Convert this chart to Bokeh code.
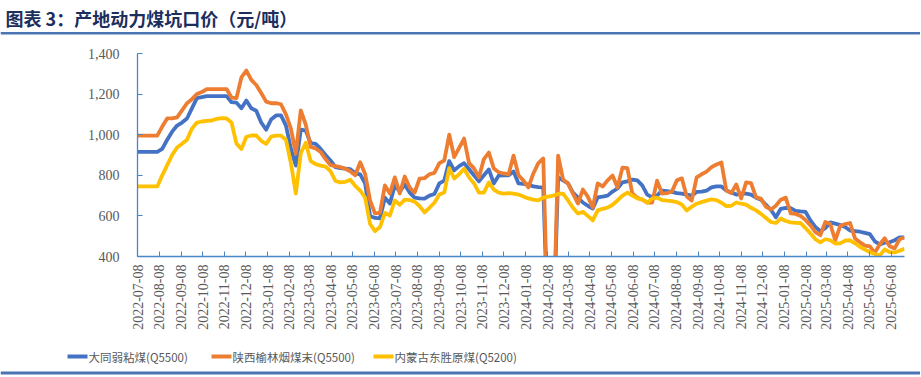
import pandas as pd
from bokeh.plotting import figure
from bokeh.layouts import column
from bokeh.core.properties import value
from bokeh.models import (FixedTicker, DatetimeTickFormatter, NumeralTickFormatter, Range1d)
from bokeh.embed import file_html
from bokeh.resources import INLINE

title_text = "图表 3：产地动力煤坑口价（元/吨）"
series_names = ["大同弱粘煤(Q5500)", "陕西榆林烟煤末(Q5500)", "内蒙古东胜原煤(Q5200)"]
start_date = "2022-07-08"
n_weeks = 156
tick_start = "2022-07-08"
tick_end = "2025-06-08"
y_ticks = [400, 600, 800, 1000, 1200, 1400]

datong = [
    915, 915, 915, 915, 915,
    930, 975, 1015, 1045, 1060,
    1080, 1130, 1180, 1185, 1190,
    1190, 1190, 1190, 1190, 1160,
    1158, 1130, 1168, 1130, 1118,
    1060, 1025, 1075, 1095, 1095,
    1045, 930, 848, 1025, 1020,
    958, 955, 930, 900, 873,
    840, 835, 833, 830, 810,
    805, 760, 600, 590, 588,
    690, 661, 750, 720, 755,
    715, 690, 686, 685, 700,
    708, 760, 774, 870, 824,
    845, 860, 830, 800, 770,
    800, 829, 760, 799, 800,
    800, 819, 760, 758, 755,
    745, 742, 740, 0, 0,
    790, 775, 760, 715, 690,
    666, 650, 636, 691, 695,
    700, 720, 735, 765, 770,
    779, 775, 750, 705, 692,
    700, 725, 722, 718, 712,
    710, 705, 700, 718, 720,
    725, 740, 745, 745, 725,
    715, 705, 710, 710, 705,
    690, 680, 655, 630, 593,
    635, 640, 638, 625, 622,
    620, 578, 545, 525, 540,
    568, 562, 555, 545, 528,
    525, 522, 516, 510, 475,
    460, 468, 470, 480, 494,
    494]

yulin = [
    995, 995, 995, 995, 995,
    1040, 1080, 1080, 1085, 1120,
    1155, 1175, 1200, 1210, 1225,
    1225, 1225, 1225, 1225, 1183,
    1180, 1282, 1316, 1270, 1245,
    1205, 1163, 1155, 1155, 1150,
    1100, 1030, 907, 1120, 1050,
    940, 932, 915, 880, 850,
    845, 840, 832, 820, 800,
    864, 807, 676, 612, 615,
    750, 710, 790, 710, 794,
    740, 715, 784, 786, 805,
    812, 860, 873, 1000, 890,
    935, 981, 860, 834, 790,
    880, 912, 834, 815, 809,
    805, 897, 800, 774, 740,
    809, 860, 883, 0, 0,
    897, 780, 760, 710, 661,
    730, 695, 641, 760, 745,
    775, 799, 740, 838, 835,
    710, 690, 680, 666, 665,
    774, 710, 712, 720, 775,
    785, 695, 676, 790, 805,
    818, 840, 853, 863, 725,
    712, 755, 686, 765, 762,
    691, 685, 645, 632, 650,
    680, 690, 612, 610, 600,
    580, 553, 520, 505, 570,
    560, 480, 550, 560, 565,
    489, 470, 454, 450, 418,
    460, 490, 450, 440, 485,
    494]

dongsheng = [
    745, 745, 745, 745, 745,
    800, 850, 900, 937, 955,
    975, 1030, 1060, 1065, 1068,
    1070, 1078, 1082, 1080, 1060,
    956, 930, 990, 996, 996,
    970, 955, 990, 995, 995,
    975, 860, 710, 910, 960,
    870, 855, 848, 843, 820,
    772, 765, 768, 778, 748,
    725, 690, 560, 525, 545,
    615, 602, 676, 655, 680,
    678, 670, 648, 617, 640,
    665, 705, 715, 835, 784,
    805, 832, 790, 760, 715,
    715, 765, 730, 715, 710,
    712, 710, 705, 695, 686,
    680, 676, 690, 695, 700,
    708, 710, 676, 640, 612,
    620, 600, 578, 627, 635,
    641, 655, 676, 700, 715,
    700, 686, 681, 665, 685,
    690, 678, 675, 673, 668,
    656, 627, 645, 660, 668,
    675, 681, 678, 665, 648,
    650, 666, 660, 655, 640,
    627, 610, 590, 570, 565,
    587, 575, 568, 566, 565,
    540, 513, 485, 470, 485,
    480, 464, 465, 478, 480,
    465, 448, 434, 422, 412,
    405, 435, 422, 420, 428,
    438]

dates = pd.date_range(start_date, periods=n_weeks, freq="7D")
ticks = pd.date_range(tick_start, tick_end, freq=pd.DateOffset(months=1))
tick_ms = [int(t.value // 10**6) for t in ticks]
x_start = int(dates[0].value // 10**6)
x_end = int(dates[-1].value // 10**6)

W = 920
HEAD_H, MAIN_H, FOOT_H = 36, 309, 31
colors = ["#4472C4", "#ED7D31", "#FFC000"]
rule_color = "#4A74B3"
label_color = "#595959"
cjk = "Noto Sans CJK SC"


def blank_fig(h):
    f = figure(width=W, height=h, output_backend="svg", toolbar_location=None,
               x_range=Range1d(0, W), y_range=Range1d(h, 0),
               x_axis_location=None, y_axis_location=None,
               min_border=0, min_border_left=0, min_border_right=0,
               min_border_top=0, min_border_bottom=0, frame_align=False)
    f.outline_line_color = None
    f.xgrid.visible = False
    f.ygrid.visible = False
    return f


# header: title and rule
head = blank_fig(HEAD_H)
head.text(x=[5], y=[17], text=[title_text], text_font=value(cjk), text_font_style="bold",
          text_font_size="18px", text_color="#1C2E5C", text_baseline="middle", text_align="left")
head.quad(left=[0], right=[W], top=[31.5], bottom=[34], fill_color=rule_color, line_color=None)

# main chart
p = figure(width=W, height=MAIN_H, x_axis_type="datetime", output_backend="svg",
           toolbar_location=None, title=None, frame_align=False,
           x_range=Range1d(x_start, x_end), y_range=Range1d(400, 1400),
           min_border_left=137, min_border_right=16, min_border_top=17, min_border_bottom=89)
p.outline_line_color = None
p.xgrid.visible = False
p.ygrid.visible = False

for vals, c in zip([datong, yulin, dongsheng], colors):
    p.line(dates, vals, line_color=c, line_width=3.8, line_join="round")

axis_color = "#4A86C5"
for ax in (p.xaxis[0], p.yaxis[0]):
    ax.axis_line_color = axis_color
    ax.axis_line_width = 1.3
    ax.major_tick_line_color = axis_color
    ax.major_tick_in = 5
    ax.major_tick_out = 0
    ax.minor_tick_line_color = None
    ax.major_label_text_color = label_color
    ax.major_label_text_font = "Liberation Serif"
    ax.major_label_text_font_size = "14px"

p.yaxis[0].ticker = FixedTicker(ticks=y_ticks)
p.yaxis[0].formatter = NumeralTickFormatter(format="0,0")
p.yaxis[0].major_label_standoff = 18

p.xaxis[0].ticker = FixedTicker(ticks=tick_ms)
fmt = "%Y-%m-%d"
p.xaxis[0].formatter = DatetimeTickFormatter(
    microseconds=fmt, milliseconds=fmt, seconds=fmt, minsec=fmt, minutes=fmt,
    hourmin=fmt, hours=fmt, days=fmt, months=fmt, years=fmt)
p.xaxis[0].major_label_orientation = 3.14159265 / 2
p.xaxis[0].major_label_standoff = 8

# footer: legend and rule
foot = blank_fig(FOOT_H)
legend_x = [67, 211, 373]
legend_y = 11
for lx, name, c in zip(legend_x, series_names, colors):
    foot.line(x=[lx, lx + 20], y=[legend_y, legend_y], line_color=c, line_width=4)
    foot.text(x=[lx + 21], y=[legend_y], text=[name], text_font=value(cjk),
              text_font_size="11.5px", text_color=label_color, text_baseline="middle",
              text_align="left")
foot.quad(left=[0], right=[W], top=[26], bottom=[29], fill_color=rule_color, line_color=None)

layout = column(head, p, foot, spacing=0)
open("out.html", "w").write(file_html(layout, INLINE))
